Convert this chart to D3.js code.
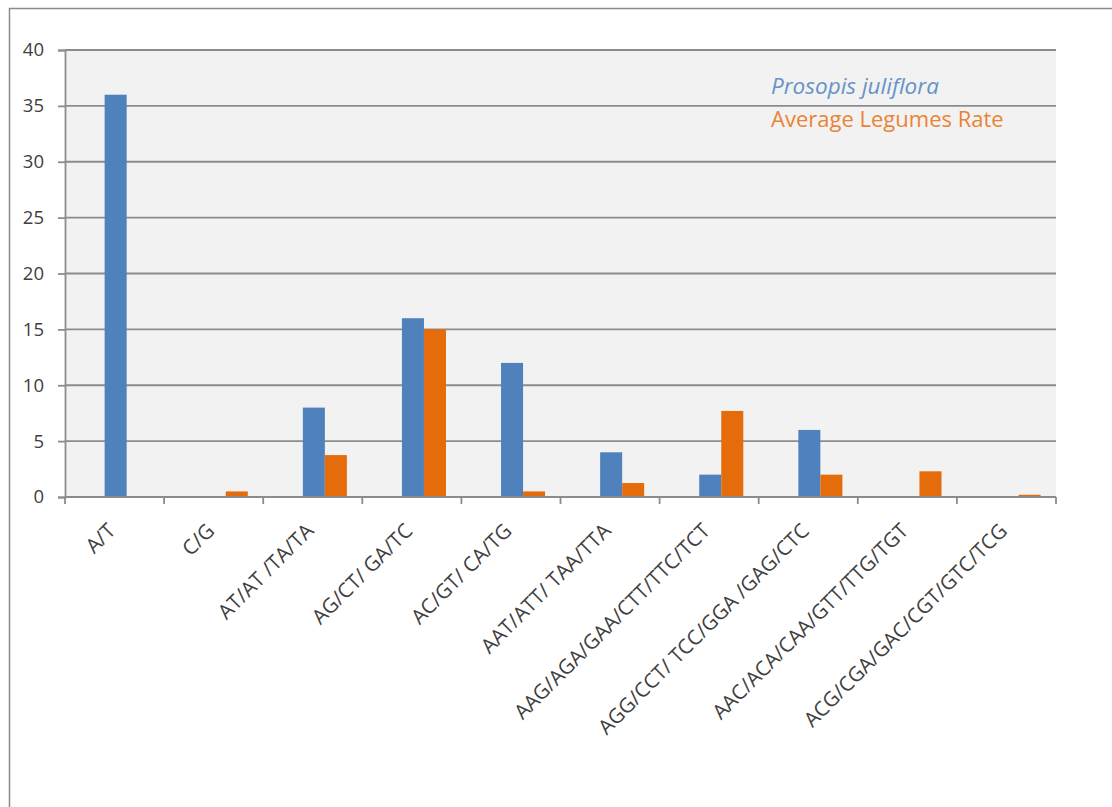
<!DOCTYPE html>
<html>
<head>
<meta charset="utf-8">
<script src="https://cdn.jsdelivr.net/npm/d3@7"></script>
<style>
  html, body { margin: 0; padding: 0; background: #fff; }
  svg { display: block; }
  text { font-family: "Open Sans", "DejaVu Sans", sans-serif; }
</style>
</head>
<body>
<svg id="chart" width="1112" height="807"></svg>
<script>
// Repeat motif classes
const categories = [
  "A/T", "C/G", "AT/AT /TA/TA", "AG/CT/ GA/TC", "AC/GT/ CA/TG",
  "AAT/ATT/ TAA/TTA", "AAG/AGA/GAA/CTT/TTC/TCT", "AGG/CCT/ TCC/GGA /GAG/CTC",
  "AAC/ACA/CAA/GTT/TTG/TGT", "ACG/CGA/GAC/CGT/GTC/TCG"
];
const seriesNames = ["Prosopis juliflora", "Average Legumes Rate"];
const prosopis = [36, 0, 8, 16, 12, 4, 2, 6, 0, 0];
const legumesAvg = [0, 0.5, 3.75, 15, 0.5, 1.25, 7.7, 2, 2.3, 0.2];
const yTicks = [0, 5, 10, 15, 20, 25, 30, 35, 40];
const colors = ["#4F81BD", "#E46C0A"];

const svg = d3.select("#chart");
const plot = { left: 65, right: 1056, top: 50, bottom: 497 };

// outer chart frame (extends past the right/bottom edges)
svg.append("rect")
  .attr("x", 9.5).attr("y", 8.5)
  .attr("width", 1300).attr("height", 1000)
  .attr("fill", "#fff").attr("stroke", "#8a8a8a").attr("stroke-width", 1.5);

// plot area background
svg.append("rect")
  .attr("x", plot.left).attr("y", plot.top)
  .attr("width", plot.right - plot.left).attr("height", plot.bottom - plot.top)
  .attr("fill", "#F2F2F2");

const x0 = d3.scaleBand().domain(categories).range([plot.left, plot.right]).paddingInner(0).paddingOuter(0);
const x1 = d3.scaleBand().domain(seriesNames).range([0, x0.bandwidth()])
  .paddingInner(0).paddingOuter(1.25).align(0.72);
const y = d3.scaleLinear().domain([0, 40]).range([plot.bottom, plot.top]);

// horizontal gridlines
svg.append("g").selectAll("line").data(yTicks.filter(t => t > 0)).join("line")
  .attr("x1", plot.left).attr("x2", plot.right)
  .attr("y1", d => y(d)).attr("y2", d => y(d))
  .attr("stroke", "#8c8c8c").attr("stroke-width", 1.8);

// bars
const rows = categories.map((c, i) => ({ cat: c, vals: [prosopis[i], legumesAvg[i]] }));
const groups = svg.append("g").selectAll("g").data(rows).join("g")
  .attr("transform", d => `translate(${x0(d.cat)},0)`);
groups.selectAll("rect")
  .data(d => d.vals.map((v, k) => ({ key: seriesNames[k], v, k })))
  .join("rect")
  .attr("x", d => x1(d.key))
  .attr("width", x1.bandwidth())
  .attr("y", d => y(d.v))
  .attr("height", d => y(0) - y(d.v))
  .attr("fill", d => colors[d.k]);

// y axis
const yAxis = d3.axisLeft(y).tickValues(yTicks).tickSize(7).tickPadding(14);
const gy = svg.append("g").attr("transform", `translate(${plot.left},0)`).call(yAxis);
gy.select(".domain").attr("stroke", "#8c8c8c").attr("stroke-width", 1.8);
gy.selectAll(".tick line").attr("stroke", "#8c8c8c").attr("stroke-width", 1.8);
gy.selectAll(".tick text").attr("font-size", 18.5).attr("fill", "#404040")
  .style("font-family", "'Open Sans', sans-serif");

// x axis baseline and boundary ticks
svg.append("line")
  .attr("x1", plot.left).attr("x2", plot.right)
  .attr("y1", y(0)).attr("y2", y(0))
  .attr("stroke", "#8c8c8c").attr("stroke-width", 1.8);
const boundaries = categories.map(c => x0(c)).concat([x0.range()[1]]);
svg.append("g").selectAll("line").data(boundaries).join("line")
  .attr("x1", d => d).attr("x2", d => d)
  .attr("y1", y(0)).attr("y2", y(0) + 7)
  .attr("stroke", "#8c8c8c").attr("stroke-width", 1.8);

// rotated category labels
svg.append("g").selectAll("text").data(categories).join("text")
  .attr("transform", d => `translate(${x0(d) + x0.bandwidth() / 2 - 3},${y(0) + 30}) rotate(-45)`)
  .attr("text-anchor", "end")
  .attr("dy", "0.35em")
  .attr("font-size", 20.5)
  .attr("fill", "#404040")
  .text(d => d);

// legend
const legend = svg.append("g");
legend.selectAll("text").data(seriesNames).join("text")
  .attr("x", 771)
  .attr("y", (d, i) => 94 + i * 33)
  .attr("font-size", (d, i) => i === 0 ? 22.5 : 22)
  .attr("font-style", (d, i) => i === 0 ? "italic" : "normal")
  .attr("fill", (d, i) => i === 0 ? "#6792C8" : "#EB8334")
  .text(d => d);
</script>
</body>
</html>
